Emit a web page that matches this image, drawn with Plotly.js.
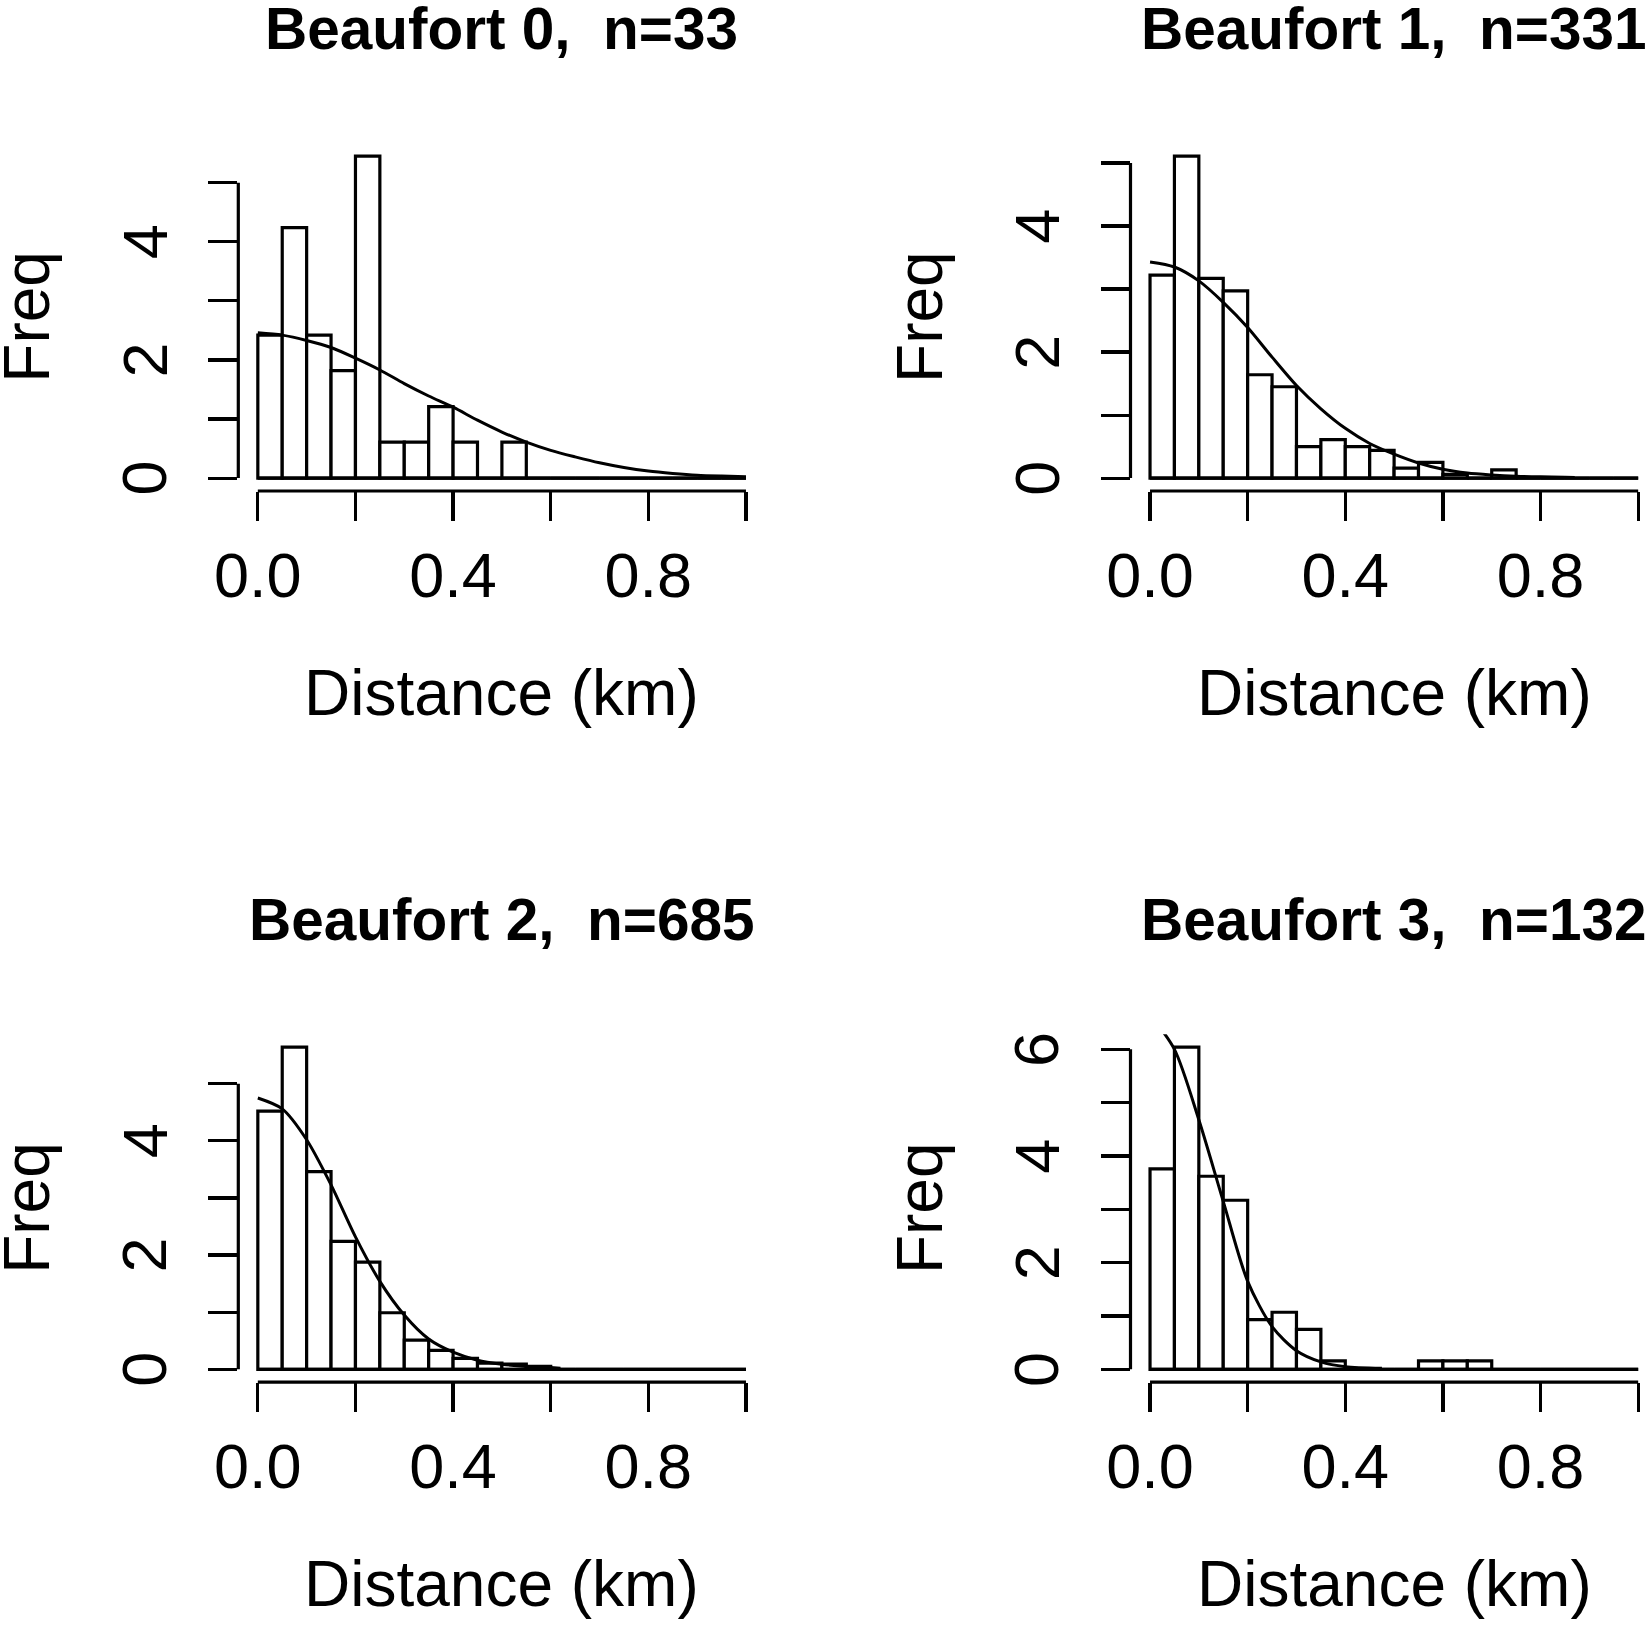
<!DOCTYPE html>
<html>
<head>
<meta charset="utf-8">
<script src="https://cdn.plot.ly/plotly-3.0.1.min.js"></script>
<style>body{margin:0;background:#fff}</style>
</head>
<body>
<div id="myDiv" style="width:1650px;height:1625px;"></div>
<script>
// histogram breaks, km
var breaks = [0, 0.05, 0.1, 0.15, 0.2, 0.25, 0.3, 0.35, 0.4, 0.45, 0.5,
              0.55, 0.6, 0.65, 0.7, 0.75, 0.8, 0.85, 0.9, 0.95, 1.0];

var seaState = ['Beaufort 0', 'Beaufort 1', 'Beaufort 2', 'Beaufort 3'];
var nObs = [33, 331, 685, 132];

// bar heights (density) per bin
var dens0 = [2.42, 4.24, 2.42, 1.82, 5.45, 0.61, 0.61, 1.21, 0.61, 0, 0.61, 0, 0, 0, 0, 0, 0, 0, 0, 0];
var dens1 = [3.22, 5.11, 3.17, 2.97, 1.64, 1.45, 0.50, 0.61, 0.50, 0.44, 0.16, 0.25, 0.06, 0, 0.13, 0, 0, 0, 0, 0];
var dens2 = [4.52, 5.64, 3.46, 2.24, 1.875, 0.99, 0.51, 0.33, 0.19, 0.11, 0.09, 0.05, 0, 0, 0, 0, 0, 0, 0, 0];
var dens3 = [3.76, 6.04, 3.62, 3.17, 0.93, 1.07, 0.75, 0.16, 0, 0, 0, 0.16, 0.16, 0.16, 0, 0, 0, 0, 0, 0];

// fitted detection curves
var curve0X = [0, 0.05, 0.1, 0.15, 0.2, 0.25, 0.3, 0.35, 0.4, 0.45, 0.5, 0.55, 0.6, 0.65, 0.7, 0.75, 0.8, 0.85, 0.9, 0.95, 1.0];
var curve0Y = [2.46, 2.42, 2.33, 2.21, 2.03, 1.83, 1.60, 1.39, 1.20, 0.98, 0.78, 0.61, 0.47, 0.36, 0.26, 0.18, 0.12, 0.08, 0.05, 0.035, 0.025];
var curve1X = [0, 0.05, 0.1, 0.15, 0.2, 0.25, 0.3, 0.35, 0.4, 0.45, 0.5, 0.55, 0.6, 0.65, 0.7, 0.75, 0.8, 0.85, 0.87];
var curve1Y = [3.43, 3.35, 3.13, 2.79, 2.39, 1.92, 1.47, 1.10, 0.79, 0.55, 0.38, 0.24, 0.14, 0.08, 0.05, 0.03, 0.02, 0.015, 0.01];
var curve2X = [0, 0.05, 0.1, 0.15, 0.2, 0.25, 0.3, 0.35, 0.4, 0.45, 0.5, 0.55, 0.6, 0.62];
var curve2Y = [4.75, 4.56, 4.02, 3.23, 2.32, 1.54, 0.95, 0.53, 0.30, 0.16, 0.09, 0.05, 0.03, 0.02];
var curve3X = [0, 0.05, 0.1, 0.15, 0.2, 0.25, 0.3, 0.35, 0.4, 0.475];
var curve3Y = [6.65, 6.0, 4.68, 3.15, 1.65, 0.80, 0.35, 0.14, 0.05, 0.02];

var xTickVals = [0, 0.2, 0.4, 0.6, 0.8, 1.0];
var xTickText = ['0.0', '', '0.4', '', '0.8', ''];
var yTickVals = [[0, 1, 2, 3, 4, 5], [0, 1, 2, 3, 4, 5], [0, 1, 2, 3, 4, 5], [0, 1, 2, 3, 4, 5, 6]];
var yTickText = [['0', '', '2', '', '4', ''], ['0', '', '2', '', '4', ''],
                 ['0', '', '2', '', '4', ''], ['0', '', '2', '', '4', '', '6']];

var xLabel = 'Distance (km)';
var yLabel = 'Freq';

var allDens = [dens0, dens1, dens2, dens3];
var allCurveX = [curve0X, curve1X, curve2X, curve3X];
var allCurveY = [curve0Y, curve1Y, curve2Y, curve3Y];

var W = 1650, H = 1625;
var FONT = '"Liberation Sans", Arial, sans-serif';
var LW = 3.2;
// plot regions in px: left, right, top, bottom
var boxes = [
  [238.3, 765.5, 143.2, 491.0],
  [1130.5, 1657.7, 143.2, 491.0],
  [238.3, 765.5, 1034.3, 1382.2],
  [1130.5, 1657.7, 1034.3, 1382.2]
];

var mids = [];
for (var k = 0; k < breaks.length - 1; k++) {
  mids.push((breaks[k] + breaks[k + 1]) / 2);
}

var data = [];
var layout = {
  width: W, height: H,
  margin: {l: 0, r: 0, t: 0, b: 0},
  paper_bgcolor: 'white', plot_bgcolor: 'white',
  showlegend: false,
  bargap: 0,
  shapes: [],
  annotations: []
};

for (var i = 0; i < 4; i++) {
  var xr = 'x' + (i + 1), yr = 'y' + (i + 1);
  var xa = 'xaxis' + (i + 1), ya = 'yaxis' + (i + 1);
  var b = boxes[i];
  var right = Math.min(b[1], W);
  var xEnd = -0.04 + 1.08 * (right - b[0]) / (b[1] - b[0]);
  var ymax = Math.max.apply(null, allDens[i]);
  var yt = yTickVals[i];

  data.push({
    type: 'bar', x: mids, y: allDens[i], width: 0.05,
    xaxis: xr, yaxis: yr,
    marker: {color: 'white', line: {color: 'black', width: LW}},
    hoverinfo: 'skip'
  });
  data.push({
    type: 'scatter', mode: 'lines', x: allCurveX[i], y: allCurveY[i],
    xaxis: xr, yaxis: yr,
    line: {color: 'black', width: 3, shape: 'spline', smoothing: 0.8},
    hoverinfo: 'skip'
  });

  layout[xa] = {
    domain: [b[0] / W, right / W], range: [-0.04, xEnd], anchor: yr,
    tickmode: 'array', tickvals: xTickVals, ticktext: xTickText,
    ticks: 'outside', ticklen: 29, tickwidth: LW, tickcolor: 'black',
    ticklabelstandoff: 0,
    showgrid: false, zeroline: false, showline: false, fixedrange: true,
    tickfont: {family: FONT, size: 63, color: 'black'}
  };
  layout[ya] = {
    domain: [1 - b[3] / H, 1 - b[2] / H], range: [-0.04 * ymax, 1.04 * ymax], anchor: xr,
    tickmode: 'array', tickvals: yt, showticklabels: false,
    ticks: 'outside', ticklen: 29, tickwidth: LW, tickcolor: 'black',
    showgrid: false, zeroline: false, showline: false, fixedrange: true
  };

  // R style axis lines: only between first and last tick
  layout.shapes.push({type: 'line', xref: xr, yref: yr + ' domain',
    x0: xTickVals[0], x1: xTickVals[xTickVals.length - 1], y0: 0, y1: 0,
    line: {color: 'black', width: LW}});
  layout.shapes.push({type: 'line', xref: xr + ' domain', yref: yr,
    x0: 0, x1: 0, y0: yt[0], y1: yt[yt.length - 1],
    line: {color: 'black', width: LW}});
  // zero-height bins still show as a line
  layout.shapes.push({type: 'line', xref: xr, yref: yr,
    x0: breaks[0], x1: breaks[breaks.length - 1], y0: 0, y1: 0,
    line: {color: 'black', width: LW}});

  // y tick labels, parallel to the axis
  for (var j = 0; j < yt.length; j++) {
    if (!yTickText[i][j]) continue;
    layout.annotations.push({
      xref: 'paper', yref: yr, x: (b[0] - 93.8) / W, y: yt[j],
      xanchor: 'center', yanchor: 'middle', showarrow: false, textangle: -90,
      text: yTickText[i][j], font: {family: FONT, size: 63, color: 'black'}
    });
  }

  var cx = (b[0] + b[1]) / 2;
  layout.annotations.push({
    xref: 'paper', yref: 'paper', x: cx / W, y: 1 - (b[2] - 115) / H,
    xanchor: 'center', yanchor: 'middle', showarrow: false,
    text: '<b>' + seaState[i] + ',\u00a0 n=' + nObs[i] + '</b>',
    font: {family: FONT, size: 58.5, color: 'black'}
  });
  layout.annotations.push({
    xref: 'paper', yref: 'paper', x: cx / W, y: 1 - (b[3] + 202) / H,
    xanchor: 'center', yanchor: 'middle', showarrow: false,
    text: xLabel, font: {family: FONT, size: 64, color: 'black'}
  });
  layout.annotations.push({
    xref: 'paper', yref: 'paper', x: (b[0] - 210.7) / W, y: 1 - ((b[2] + b[3]) / 2) / H,
    xanchor: 'center', yanchor: 'middle', showarrow: false, textangle: -90,
    text: yLabel, font: {family: FONT, size: 64, color: 'black'}
  });
}

Plotly.newPlot('myDiv', data, layout, {displayModeBar: false, staticPlot: true});
</script>
</body>
</html>
